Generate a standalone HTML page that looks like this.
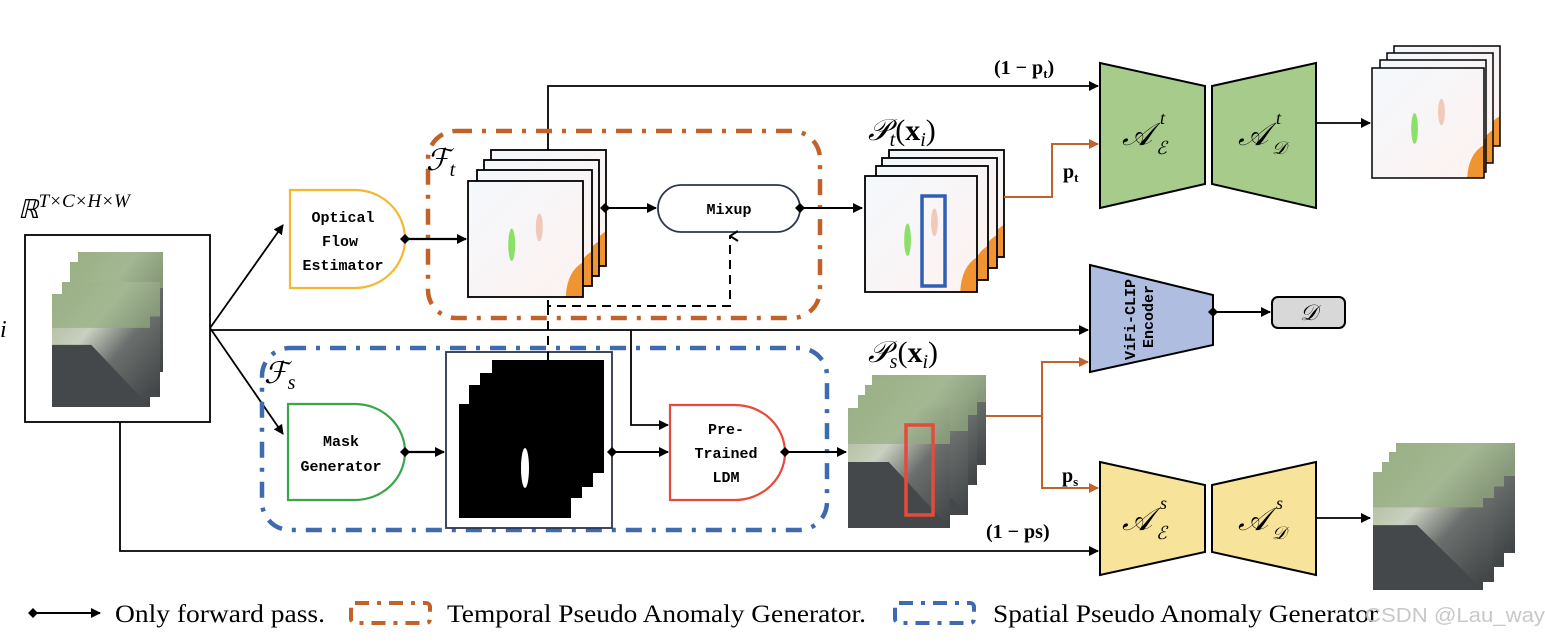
<!DOCTYPE html>
<html><head><meta charset="utf-8"><style>
html,body{margin:0;padding:0;background:#fff;}
svg{display:block;}
.mono{font-family:"Liberation Mono",monospace;font-weight:bold;font-size:15px;}
.serif{font-family:"Liberation Serif",serif;}
</style></head><body>
<svg width="1545" height="644" viewBox="0 0 1545 644" xmlns="http://www.w3.org/2000/svg">
<defs>
<marker id="ar" markerWidth="10" markerHeight="10" refX="9" refY="5" orient="auto" markerUnits="userSpaceOnUse"><path d="M0,0 L10,5 L0,10 z" fill="#000"/></marker>
<marker id="ao" markerWidth="10" markerHeight="10" refX="9" refY="5" orient="auto" markerUnits="userSpaceOnUse"><path d="M0,0 L10,5 L0,10 z" fill="#c0622a"/></marker>
<marker id="aup" markerWidth="12" markerHeight="10" refX="6" refY="1" orient="auto" markerUnits="userSpaceOnUse"><path d="M1,9 L6,1 L11,9" fill="none" stroke="#000" stroke-width="2"/></marker>
<linearGradient id="street" x1="0" y1="0" x2="1" y2="1">
<stop offset="0" stop-color="#a8b890"/><stop offset="0.35" stop-color="#c9d0c0"/><stop offset="0.6" stop-color="#6a6e6c"/><stop offset="1" stop-color="#3f4244"/></linearGradient>
<linearGradient id="flow" x1="0" y1="0" x2="1" y2="1">
<stop offset="0" stop-color="#f4f8fc"/><stop offset="1" stop-color="#fdf2f0"/></linearGradient>
<g id="photo">
<rect width="100" height="100" fill="url(#street)"/>
<rect x="0" y="0" width="100" height="30" fill="#94ad80" opacity="0.7"/>
<polygon points="0,45 40,45 100,100 0,100" fill="#45484a"/>
</g>
<g id="fl" stroke="none">
<rect width="100" height="100" fill="url(#flow)"/>
<ellipse cx="38" cy="55" rx="3" ry="14" fill="#8be068"/>
<ellipse cx="62" cy="40" rx="3" ry="12" fill="#f2c8b8"/>
<path d="M85,100 Q86,78 100,70 L100,100z" fill="#ef9431"/>
</g>
</defs>

<text x="18" y="218" class="serif" font-size="26" font-style="italic">ℝ<tspan font-size="19" dy="-11">T×C×H×W</tspan></text>
<text x="0" y="337" class="serif" font-size="24" font-style="italic">i</text>
<rect x="25" y="235" width="185" height="187" fill="#fff" stroke="#000" stroke-width="1.8"/>
<svg x="78" y="252" width="85" height="120" viewBox="0 0 100 100" preserveAspectRatio="none"><use href="#photo"/></svg>
<svg x="70" y="262" width="85" height="120" viewBox="0 0 100 100" preserveAspectRatio="none"><use href="#photo"/></svg>
<svg x="62" y="282" width="98" height="115" viewBox="0 0 100 100" preserveAspectRatio="none"><use href="#photo"/></svg>
<svg x="52" y="294" width="98" height="113" viewBox="0 0 100 100" preserveAspectRatio="none"><use href="#photo"/></svg>

<g stroke="#000" stroke-width="1.8" fill="none">
<line x1="210" y1="328" x2="283" y2="225" marker-end="url(#ar)"/>
<line x1="210" y1="328" x2="283" y2="434" marker-end="url(#ar)"/>
<line x1="210" y1="330" x2="1088" y2="330" marker-end="url(#ar)"/>
<polyline points="120,422 120,551 1098,551" marker-end="url(#ar)"/>
<polyline points="548,150 548,86 1098,86" marker-end="url(#ar)"/>
<polyline points="631,330 631,425 668,425" marker-end="url(#ar)"/>
</g>

<rect x="428" y="131" width="392" height="187" rx="28" fill="none" stroke="#c0622a" stroke-width="4.5" stroke-dasharray="16,10,4,10"/>
<text x="426" y="170" class="serif" font-size="30" font-style="italic">ℱ<tspan font-size="20" dy="6">t</tspan></text>

<path d="M290,190 H355 A50,49 0 0 1 355,288 H290 Z" fill="#fff" stroke="#f5b731" stroke-width="2.2"/>
<text class="mono" text-anchor="middle"><tspan x="343" y="222">Optical</tspan><tspan x="340" y="246">Flow</tspan><tspan x="343" y="270">Estimator</tspan></text>
<line x1="405" y1="239" x2="466" y2="239" stroke="#000" stroke-width="2.2" marker-end="url(#ar)"/>
<path d="M405,234 L410,239 405,244 400,239z" fill="#000"/>

<svg x="491" y="150" width="115" height="116" viewBox="0 0 100 100" preserveAspectRatio="none"><use href="#fl"/></svg><rect x="491" y="150" width="115" height="116" fill="none" stroke="#000" stroke-width="1.8"/>
<svg x="484" y="160" width="115" height="116" viewBox="0 0 100 100" preserveAspectRatio="none"><use href="#fl"/></svg><rect x="484" y="160" width="115" height="116" fill="none" stroke="#000" stroke-width="1.8"/>
<svg x="477" y="170" width="115" height="116" viewBox="0 0 100 100" preserveAspectRatio="none"><use href="#fl"/></svg><rect x="477" y="170" width="115" height="116" fill="none" stroke="#000" stroke-width="1.8"/>
<svg x="468" y="181" width="115" height="116" viewBox="0 0 100 100" preserveAspectRatio="none"><use href="#fl"/></svg><rect x="468" y="181" width="115" height="116" fill="none" stroke="#000" stroke-width="1.8"/>

<line x1="605" y1="208" x2="656" y2="208" stroke="#000" stroke-width="2" marker-end="url(#ar)"/>
<path d="M605,203 L610,208 605,213 600,208z" fill="#000"/>
<rect x="658" y="185" width="142" height="47" rx="23.5" fill="#fff" stroke="#2c3550" stroke-width="1.8"/>
<text x="729" y="214" class="mono" text-anchor="middle">Mixup</text>
<line x1="800" y1="208" x2="862" y2="208" stroke="#000" stroke-width="2" marker-end="url(#ar)"/>
<path d="M800,203 L805,208 800,213 795,208z" fill="#000"/>
<polyline points="548,300 548,306 730,306 730,236" fill="none" stroke="#000" stroke-width="2" stroke-dasharray="9,6" marker-end="url(#aup)"/>
<line x1="548" y1="306" x2="548" y2="352" stroke="#000" stroke-width="2" stroke-dasharray="9,6"/>

<text x="868" y="140" class="serif" font-size="30" font-style="italic">𝒫<tspan font-size="20" dy="6">t</tspan><tspan dy="-6" font-style="normal">(</tspan><tspan font-weight="bold" font-style="normal">x</tspan><tspan font-size="20" dy="6">i</tspan><tspan dy="-6" font-style="normal">)</tspan></text>
<svg x="889" y="150" width="115" height="107" viewBox="0 0 100 100" preserveAspectRatio="none"><use href="#fl"/></svg><rect x="889" y="150" width="115" height="107" fill="none" stroke="#000" stroke-width="1.8"/>
<svg x="882" y="158" width="115" height="110" viewBox="0 0 100 100" preserveAspectRatio="none"><use href="#fl"/></svg><rect x="882" y="158" width="115" height="110" fill="none" stroke="#000" stroke-width="1.8"/>
<svg x="876" y="166" width="112" height="114" viewBox="0 0 100 100" preserveAspectRatio="none"><use href="#fl"/></svg><rect x="876" y="166" width="112" height="114" fill="none" stroke="#000" stroke-width="1.8"/>
<svg x="865" y="176" width="112" height="116" viewBox="0 0 100 100" preserveAspectRatio="none"><use href="#fl"/></svg><rect x="865" y="176" width="112" height="116" fill="none" stroke="#000" stroke-width="1.8"/>
<rect x="922" y="196" width="23" height="90" fill="none" stroke="#2f5fb5" stroke-width="3.5"/>
<polyline points="1004,197 1052,197 1052,144 1098,144" fill="none" stroke="#c0622a" stroke-width="2" marker-end="url(#ao)"/>
<text x="1063" y="178" class="serif" font-size="20" font-weight="bold">p<tspan font-size="13" dy="4">t</tspan></text>
<text x="994" y="74" class="serif" font-size="20" font-weight="bold">(1 − p<tspan font-size="13" dy="4">t</tspan><tspan dy="-4">)</tspan></text>

<polygon points="1100,63 1205,86 1205,184 1100,208" fill="#a6cb8a" stroke="#000" stroke-width="2"/>
<polygon points="1212,86 1316,63 1316,208 1212,184" fill="#a6cb8a" stroke="#000" stroke-width="2"/>
<text x="1122" y="145" class="serif" font-size="32" font-style="italic">𝒜</text>
<text x="1160" y="124" class="serif" font-size="18" font-style="italic">t</text>
<text x="1156" y="154" class="serif" font-size="18" font-style="italic">ℰ</text>
<text x="1238" y="145" class="serif" font-size="32" font-style="italic">𝒜</text>
<text x="1276" y="124" class="serif" font-size="18" font-style="italic">t</text>
<text x="1272" y="154" class="serif" font-size="18" font-style="italic">𝒟</text>
<line x1="1316" y1="123" x2="1370" y2="123" stroke="#000" stroke-width="1.8" marker-end="url(#ar)"/>
<svg x="1394" y="46" width="106" height="100" viewBox="0 0 100 100" preserveAspectRatio="none"><use href="#fl"/></svg><rect x="1394" y="46" width="106" height="100" fill="none" stroke="#000" stroke-width="1.5"/>
<svg x="1387" y="53" width="106" height="110" viewBox="0 0 100 100" preserveAspectRatio="none"><use href="#fl"/></svg><rect x="1387" y="53" width="106" height="110" fill="none" stroke="#000" stroke-width="1.5"/>
<svg x="1380" y="60" width="106" height="112" viewBox="0 0 100 100" preserveAspectRatio="none"><use href="#fl"/></svg><rect x="1380" y="60" width="106" height="112" fill="none" stroke="#000" stroke-width="1.5"/>
<svg x="1372" y="68" width="112" height="110" viewBox="0 0 100 100" preserveAspectRatio="none"><use href="#fl"/></svg><rect x="1372" y="68" width="112" height="110" fill="none" stroke="#000" stroke-width="1.5"/>

<polygon points="1090,265 1213,295 1213,345 1090,372" fill="#aebde0" stroke="#000" stroke-width="2"/>
<text class="mono" font-size="14" transform="translate(1135,360) rotate(-90)"><tspan x="0" y="0">ViFi-CLIP</tspan><tspan x="12" y="18">Encoder</tspan></text>
<line x1="1213" y1="312" x2="1270" y2="312" stroke="#000" stroke-width="2" marker-end="url(#ar)"/>
<path d="M1213,307 L1218,312 1213,317 1208,312z" fill="#000"/>
<rect x="1272" y="297" width="73" height="31" rx="6" fill="#d8d8d8" stroke="#000" stroke-width="2"/>
<text x="1300" y="320" class="serif" font-size="22" font-style="italic">𝒟</text>

<rect x="262" y="348" width="565" height="182" rx="28" fill="none" stroke="#3e6ab0" stroke-width="4.5" stroke-dasharray="16,10,4,10"/>
<text x="264" y="383" class="serif" font-size="30" font-style="italic">ℱ<tspan font-size="20" dy="6">s</tspan></text>

<path d="M288,404 H355 A50,48 0 0 1 355,500 H288 Z" fill="#fff" stroke="#3aa64a" stroke-width="2.2"/>
<text class="mono" text-anchor="middle"><tspan x="341" y="446">Mask</tspan><tspan x="341" y="471">Generator</tspan></text>
<line x1="405" y1="452" x2="444" y2="452" stroke="#000" stroke-width="2.2" marker-end="url(#ar)"/>
<path d="M405,447 L410,452 405,457 400,452z" fill="#000"/>

<rect x="446" y="352" width="166" height="176" fill="#fff" stroke="#2c3550" stroke-width="1.8"/>
<path d="M492,360 H604 V473 H593 V487 H582 V498 H571 V518 H459 V404 H469 V385 H480 V373 H492 Z" fill="#000"/>
<line x1="548" y1="352" x2="548" y2="360" stroke="#000" stroke-width="2"/>
<ellipse cx="525" cy="468" rx="4" ry="20" fill="#fff"/>
<line x1="612" y1="452" x2="668" y2="452" stroke="#000" stroke-width="2" marker-end="url(#ar)"/>
<path d="M612,447 L617,452 612,457 607,452z" fill="#000"/>

<path d="M670,405 H735 A50,47.5 0 0 1 735,500 H670 Z" fill="#fff" stroke="#e64a3a" stroke-width="2.2"/>
<text class="mono" text-anchor="middle"><tspan x="726" y="434">Pre-</tspan><tspan x="726" y="458">Trained</tspan><tspan x="726" y="482">LDM</tspan></text>
<line x1="785" y1="452" x2="846" y2="452" stroke="#000" stroke-width="2" marker-end="url(#ar)"/>
<path d="M785,447 L790,452 785,457 780,452z" fill="#000"/>

<text x="868" y="362" class="serif" font-size="30" font-style="italic">𝒫<tspan font-size="20" dy="6">s</tspan><tspan dy="-6" font-style="normal">(</tspan><tspan font-weight="bold" font-style="normal">x</tspan><tspan font-size="20" dy="6">i</tspan><tspan dy="-6" font-style="normal">)</tspan></text>
<svg x="872" y="375" width="114" height="90" viewBox="0 0 100 100" preserveAspectRatio="none"><use href="#photo"/></svg>
<svg x="865" y="385" width="112" height="100" viewBox="0 0 100 100" preserveAspectRatio="none"><use href="#photo"/></svg>
<svg x="858" y="395" width="110" height="120" viewBox="0 0 100 100" preserveAspectRatio="none"><use href="#photo"/></svg>
<svg x="848" y="408" width="102" height="120" viewBox="0 0 100 100" preserveAspectRatio="none"><use href="#photo"/></svg>
<rect x="906" y="425" width="27" height="90" fill="none" stroke="#e64a3a" stroke-width="3.5"/>
<polyline points="986,416 1042,416 1042,362 1088,362" fill="none" stroke="#c0622a" stroke-width="2" marker-end="url(#ao)"/>
<polyline points="1042,416 1042,488 1098,488" fill="none" stroke="#c0622a" stroke-width="2" marker-end="url(#ao)"/>
<text x="1062" y="482" class="serif" font-size="20" font-weight="bold">p<tspan font-size="13" dy="4">s</tspan></text>
<text x="986" y="538" class="serif" font-size="20" font-weight="bold">(1 − ps)</text>

<polygon points="1100,462 1205,485 1205,552 1100,575" fill="#f7e39a" stroke="#000" stroke-width="2"/>
<polygon points="1212,485 1316,462 1316,575 1212,552" fill="#f7e39a" stroke="#000" stroke-width="2"/>
<text x="1122" y="530" class="serif" font-size="32" font-style="italic">𝒜</text>
<text x="1160" y="509" class="serif" font-size="18" font-style="italic">s</text>
<text x="1156" y="539" class="serif" font-size="18" font-style="italic">ℰ</text>
<text x="1238" y="530" class="serif" font-size="32" font-style="italic">𝒜</text>
<text x="1276" y="509" class="serif" font-size="18" font-style="italic">s</text>
<text x="1272" y="539" class="serif" font-size="18" font-style="italic">𝒟</text>
<line x1="1316" y1="518" x2="1370" y2="518" stroke="#000" stroke-width="1.8" marker-end="url(#ar)"/>
<svg x="1396" y="443" width="119" height="110" viewBox="0 0 100 100" preserveAspectRatio="none"><use href="#photo"/></svg>
<svg x="1389" y="452" width="115" height="115" viewBox="0 0 100 100" preserveAspectRatio="none"><use href="#photo"/></svg>
<svg x="1382" y="462" width="112" height="120" viewBox="0 0 100 100" preserveAspectRatio="none"><use href="#photo"/></svg>
<svg x="1373" y="472" width="110" height="118" viewBox="0 0 100 100" preserveAspectRatio="none"><use href="#photo"/></svg>

<line x1="33" y1="613" x2="100" y2="613" stroke="#000" stroke-width="2" marker-end="url(#ar)"/>
<path d="M33,608 L38,613 33,618 28,613z" fill="#000"/>
<text x="115" y="622" class="serif" font-size="25" textLength="210" lengthAdjust="spacingAndGlyphs">Only forward pass.</text>
<rect x="351" y="603" width="79" height="20" rx="4" fill="none" stroke="#c0622a" stroke-width="4" stroke-dasharray="14,8,4,8"/>
<text x="447" y="622" class="serif" font-size="25" textLength="419" lengthAdjust="spacingAndGlyphs">Temporal Pseudo Anomaly Generator.</text>
<rect x="895" y="603" width="79" height="20" rx="4" fill="none" stroke="#3e6ab0" stroke-width="4" stroke-dasharray="14,8,4,8"/>
<text x="993" y="622" class="serif" font-size="25" textLength="385" lengthAdjust="spacingAndGlyphs">Spatial Pseudo Anomaly Generator</text>
<text x="1365" y="622" font-family="Liberation Sans, sans-serif" font-size="20" fill="#c8c8c8" textLength="180" lengthAdjust="spacingAndGlyphs">CSDN @Lau_way</text>
</svg>
</body></html>
